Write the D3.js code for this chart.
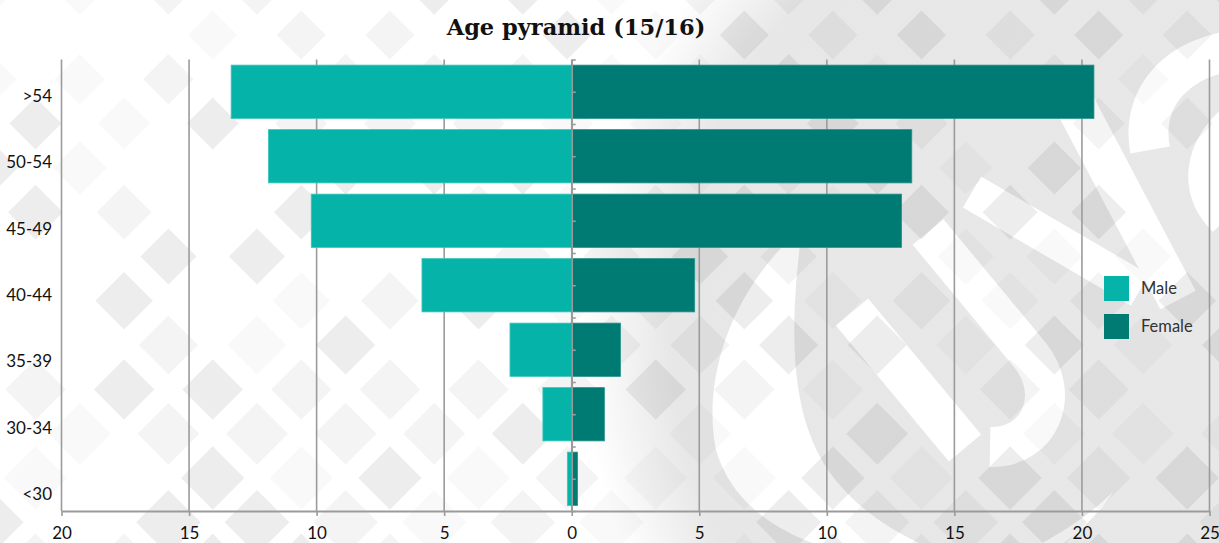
<!DOCTYPE html>
<html>
<head>
<meta charset="utf-8">
<script src="https://cdn.jsdelivr.net/npm/d3@7"></script>
<style>
  html, body { margin: 0; padding: 0; background: #fff; }
  svg { display: block; }
</style>
</head>
<body>
<svg id="chart" width="1219" height="543"></svg>
<script>
// Age groups, top to bottom
const ageGroups = [">54", "50-54", "45-49", "40-44", "35-39", "30-34", "<30"];
// Share of staff per age group (%)
const maleValues = [13.35, 11.89, 10.21, 5.87, 2.42, 1.13, 0.17];
const femaleValues = [20.47, 13.33, 12.93, 4.82, 1.91, 1.28, 0.23];
// Horizontal axis: males plotted to the left of zero
const xTickValues = [-20, -15, -10, -5, 0, 5, 10, 15, 20, 25];
const xTickLabels = ["20", "15", "10", "5", "0", "5", "10", "15", "20", "25"];
const seriesNames = ["Male", "Female"];
const seriesColors = ["#05b3a9", "#007b74"];
const chartTitle = "Age pyramid (15/16)";

const W = 1219, H = 543;
const svg = d3.select("#chart");
const FONT = "Lato, 'Open Sans', sans-serif";

// ---------- decorative background ----------
const defs = svg.append("defs");
const grad = defs.append("radialGradient").attr("id", "bgShade")
  .attr("gradientUnits", "userSpaceOnUse")
  .attr("cx", 1150).attr("cy", 330).attr("r", 570);
grad.append("stop").attr("offset", "0%").attr("stop-color", "#e8e8e8");
grad.append("stop").attr("offset", "84%").attr("stop-color", "#e7e7e7");
grad.append("stop").attr("offset", "100%").attr("stop-color", "#ffffff");

const bg = svg.append("g").attr("class", "background");
bg.append("rect").attr("width", W).attr("height", H).attr("fill", "#fff");
bg.append("circle").attr("cx", 1150).attr("cy", 330).attr("r", 570).attr("fill", "url(#bgShade)");

// light emblem strokes
const emblem = bg.append("g").attr("fill", "#fff").attr("stroke", "none");
emblem.append("path").attr("d",
  "M802,228 C730,290 702,380 716,450 C735,515 800,548 880,560 L960,560 C905,540 860,515 828,470 C795,420 786,350 802,228 Z");
emblem.append("path").attr("d",
  "M1113,492 C1095,520 1070,540 1040,560 L1010,560 C1060,535 1090,515 1113,492 Z");
const strokes = emblem.append("g").attr("fill", "none").attr("stroke", "#fff");
strokes.append("path").attr("stroke-width", 42).attr("d", "M852,312 L965,448");
strokes.append("path").attr("stroke-width", 40).attr("d", "M928,232 L1030,355 C1062,395 1040,448 990,447");
strokes.append("path").attr("stroke-width", 36).attr("d", "M972,192 L1140,290");
strokes.append("path").attr("stroke-width", 40).attr("d", "M1070,95 L1178,300");
strokes.append("path").attr("stroke-width", 40).attr("d", "M1150,150 C1140,95 1180,55 1240,50");
strokes.append("path").attr("stroke-width", 34).attr("d", "M1235,120 C1200,150 1195,190 1225,220");

// diamond lattice
const step = 44.3;
function shadeOf(i, j) {
  const v = Math.abs(Math.sin(i * 12.9898 + j * 78.233) * 43758.5453) % 1;
  if (v < 0.18) return 0;
  if (v < 0.42) return 0.03;
  if (v < 0.68) return 0.06;
  return 0.095;
}
const diamonds = [];
for (let j = -1; j <= 13; j++) {
  for (let i = -1; i <= 28; i++) {
    if ((i + j) % 2 !== 0) continue;
    const cx = 35.5 + step * i, cy = 35 + step * j;
    const a = shadeOf(i, j);
    if (a > 0) diamonds.push({ cx, cy, a, h: 24 + 0.016 * Math.max(cy, 0) });
  }
}
bg.append("g").selectAll("path").data(diamonds).join("path")
  .attr("d", d => `M${d.cx},${d.cy - d.h}L${d.cx + d.h},${d.cy}L${d.cx},${d.cy + d.h}L${d.cx - d.h},${d.cy}Z`)
  .attr("fill", d => `rgba(60,64,66,${d.a})`);

// ---------- chart ----------
const x = d3.scaleLinear().domain([-20, 25]).range([61.5, 1209.5]);
const y = d3.scaleBand().domain(ageGroups).range([59.5, 511]).paddingInner(0.174).paddingOuter(0.087);
const yIdx = d3.scaleLinear().domain([0, ageGroups.length]).range([59.5, 511]);
const yLabel = d3.scalePoint().domain(ageGroups).range([96, 494]);

// vertical gridlines
svg.append("g").selectAll("line").data(xTickValues).join("line")
  .attr("x1", d => x(d)).attr("x2", d => x(d))
  .attr("y1", 59.5).attr("y2", 511)
  .attr("stroke", "#9b9b9b").attr("stroke-width", 1.6);

// bars
const rows = ageGroups.map((g, k) => ({ group: g, male: maleValues[k], female: femaleValues[k] }));
const bars = svg.append("g");
bars.selectAll("rect.male").data(rows).join("rect").attr("class", "male")
  .attr("x", d => x(-d.male)).attr("width", d => x(0) - x(-d.male))
  .attr("y", d => y(d.group)).attr("height", y.bandwidth())
  .attr("fill", seriesColors[0]).attr("stroke", "#3cc4bb").attr("stroke-width", 0.8);
bars.selectAll("rect.female").data(rows).join("rect").attr("class", "female")
  .attr("x", x(0)).attr("width", d => x(d.female) - x(0))
  .attr("y", d => y(d.group)).attr("height", y.bandwidth())
  .attr("fill", seriesColors[1]).attr("stroke", "#2a918b").attr("stroke-width", 0.8);

// zero axis with half-band ticks
const zeroAxis = svg.append("g").attr("transform", `translate(${x(0)},0)`)
  .call(d3.axisRight(yIdx).tickValues(d3.range(0, ageGroups.length + 0.01, 0.5))
    .tickSize(4).tickSizeOuter(0).tickFormat(""));
zeroAxis.select(".domain").attr("stroke", "#9b9b9b").attr("stroke-width", 1.6);
zeroAxis.selectAll(".tick line").attr("stroke", "#9b9b9b").attr("stroke-width", 1.6);

// bottom axis
const xAxis = svg.append("g").attr("transform", "translate(0,511)")
  .call(d3.axisBottom(x).tickValues(xTickValues).tickSize(5).tickSizeOuter(0).tickPadding(11)
    .tickFormat((d, k) => xTickLabels[k]));
xAxis.select(".domain").attr("stroke", "#9b9b9b").attr("stroke-width", 1.8);
xAxis.selectAll(".tick line").attr("stroke", "#9b9b9b").attr("stroke-width", 1.6);
xAxis.selectAll(".tick text").attr("font-family", FONT).attr("font-size", 17).attr("fill", "#111");

// category labels
svg.append("g").selectAll("text").data(ageGroups).join("text")
  .attr("x", 52).attr("y", d => yLabel(d)).attr("dy", "0.36em")
  .attr("text-anchor", "end").attr("font-family", FONT).attr("font-size", 17).attr("fill", "#111")
  .text(d => d);

// title
svg.append("text").attr("x", 576).attr("y", 35).attr("text-anchor", "middle")
  .attr("font-family", "'DejaVu Serif', serif").attr("font-weight", "bold").attr("font-size", 22.5)
  .attr("fill", "#111").text(chartTitle);

// legend
const legend = svg.append("g").attr("transform", "translate(1104,276)");
const item = legend.selectAll("g").data(seriesNames).join("g")
  .attr("transform", (d, k) => `translate(0,${k * 38})`);
item.append("rect").attr("width", 25).attr("height", 25).attr("fill", (d, k) => seriesColors[k]);
item.append("text").attr("x", 37).attr("y", 12.5).attr("dy", "0.36em")
  .attr("font-family", FONT).attr("font-size", 16.5).attr("fill", "#333").text(d => d);
</script>
</body>
</html>
